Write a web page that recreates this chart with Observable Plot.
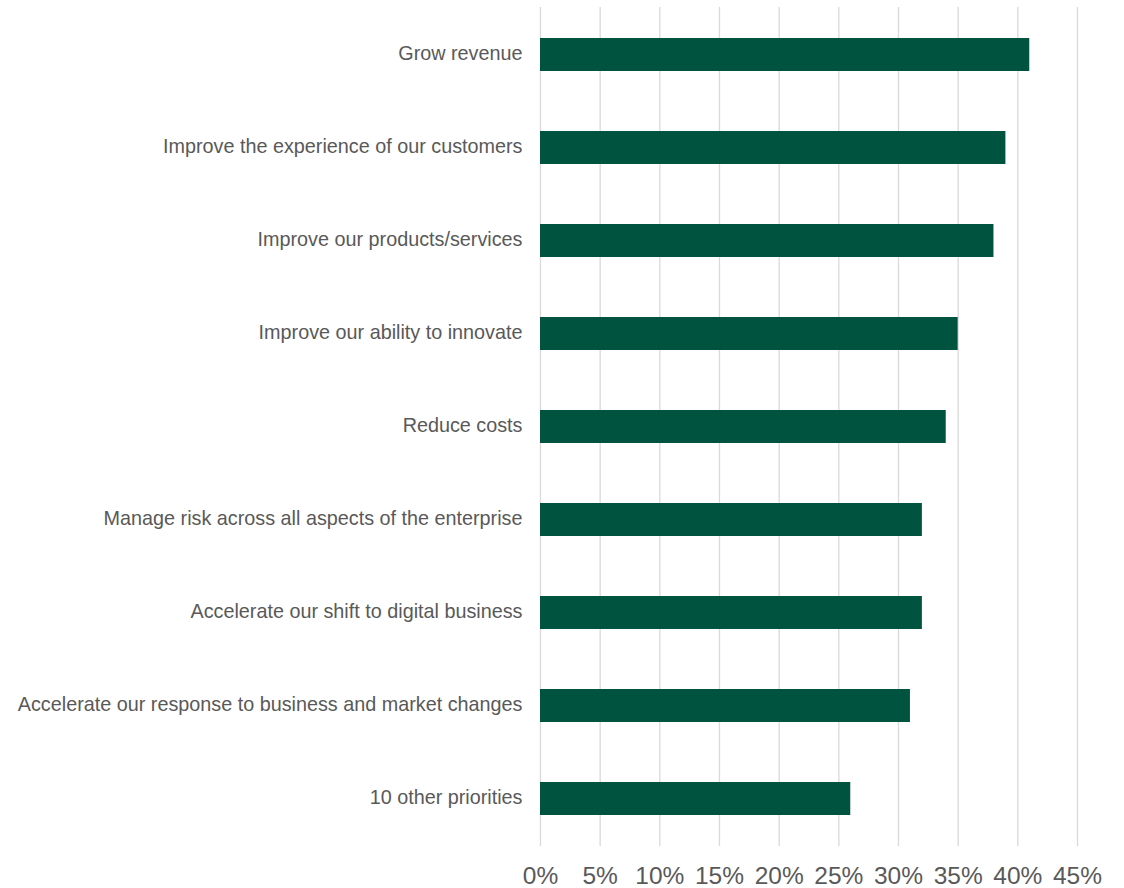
<!DOCTYPE html>
<html>
<head>
<meta charset="utf-8">
<script src="https://cdn.jsdelivr.net/npm/d3@7"></script>
<script src="https://cdn.jsdelivr.net/npm/@observablehq/plot@0.6"></script>
<style>
  html, body { margin: 0; padding: 0; background: #fff; }
  #chart { width: 1124px; height: 888px; }
</style>
</head>
<body>
<div id="chart"></div>
<script>
const categories = [
  "Grow revenue",
  "Improve the experience of our customers",
  "Improve our products/services",
  "Improve our ability to innovate",
  "Reduce costs",
  "Manage risk across all aspects of the enterprise",
  "Accelerate our shift to digital business",
  "Accelerate our response to business and market changes",
  "10 other priorities"
];
const values = [41, 39, 38, 35, 34, 32, 32, 31, 26];
const xTicks = [0, 5, 10, 15, 20, 25, 30, 35, 40, 45];

const data = categories.map((c, i) => ({category: c, value: values[i]}));

const chart = Plot.plot({
  width: 1124,
  height: 888,
  marginLeft: 540,
  marginRight: 47,
  marginTop: 7,
  marginBottom: 42,
  style: {fontFamily: "'Liberation Sans', Arial, sans-serif", color: "#595959", background: "#fff"},
  x: {domain: [0, 45], ticks: xTicks, tickFormat: d => d + "%", label: null},
  y: {domain: categories, paddingInner: 0.646, paddingOuter: 0.323, label: null},
  marks: [
    Plot.ruleX(xTicks, {stroke: "#d9d9d9", strokeWidth: 1.3}),
    Plot.barX(data, {x: "value", y: "category", fill: "#00543f"}),
    Plot.axisX({ticks: xTicks, tickFormat: d => d + "%", tickSize: 0, tickPadding: 20, fontSize: 24.5, fill: "#595959", label: null}),
    Plot.axisY({tickSize: 0, tickPadding: 18, fontSize: 19.8, dy: -1.5, fill: "#595959", label: null})
  ]
});
document.getElementById("chart").appendChild(chart);
</script>
</body>
</html>
